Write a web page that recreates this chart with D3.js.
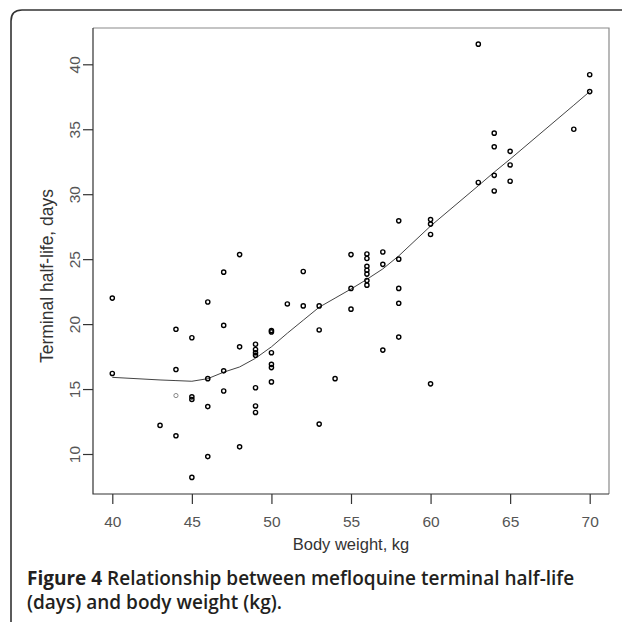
<!DOCTYPE html>
<html>
<head>
<meta charset="utf-8">
<script src="https://cdn.jsdelivr.net/npm/d3@7"></script>
<style>
  body { margin: 0; background: #fff; }
  svg { display: block; }
  .tick text { font-family: "Liberation Sans", Arial, sans-serif; font-size: 15.5px; fill: #555; }
</style>
</head>
<body>
<div id="chart"></div>
<script>
//============= DATA ==============//
// body weight (kg) of each patient
const weights = [
  40, 40,
  43,
  44, 44, 44, 44,
  45, 45, 45, 45,
  46, 46, 46, 46,
  47, 47, 47, 47,
  48, 48, 48,
  49, 49, 49, 49, 49, 49, 49,
  50, 50, 50, 50, 50, 50,
  51,
  52, 52,
  53, 53, 53,
  54,
  55, 55, 55,
  56, 56, 56, 56, 56, 56, 56,
  57, 57, 57,
  58, 58, 58, 58, 58,
  60, 60, 60, 60,
  63, 63,
  64, 64, 64, 64,
  65, 65, 65,
  69,
  70, 70
];
// terminal half-life (days), same order as weights
const halfLives = [
  22.0, 16.2,
  12.2,
  19.6, 16.5, 14.5, 11.4,
  18.95, 14.4, 14.2, 8.2,
  21.7, 15.8, 13.65, 9.8,
  24.0, 19.9, 16.4, 14.85,
  25.35, 18.25, 10.55,
  18.45, 18.05, 17.8, 17.6, 15.1, 13.7, 13.2,
  19.5, 19.4, 17.8, 16.9, 16.65, 15.55,
  21.55,
  24.05, 21.4,
  21.4, 19.55, 12.3,
  15.8,
  25.35, 22.75, 21.15,
  25.4, 25.05, 24.45, 24.15, 23.85, 23.35, 23.0,
  25.55, 24.6, 18.0,
  27.95, 25.0, 22.75, 21.6, 19.0,
  28.05, 27.7, 26.9, 15.4,
  41.55, 30.9,
  34.7, 33.65, 31.45, 30.25,
  33.3, 32.25, 31.0,
  35.0,
  39.2, 37.9
];
// the one lighter point
const greyPoint = 5;

// smoothed (lowess) curve
const smoothX = [40, 43, 44, 45, 46, 47, 48, 49, 50, 51, 52, 53, 54, 55, 56, 57, 58, 60, 63, 64, 65, 69, 70];
const smoothY = [15.9, 15.7, 15.65, 15.6, 15.8, 16.3, 16.7, 17.37, 18.25, 19.3, 20.3, 21.3, 22.0, 22.7, 23.45, 24.25, 25.25, 27.55, 30.65, 31.7, 32.7, 36.85, 37.9];

const xTicks = [40, 45, 50, 55, 60, 65, 70];
const yTicks = [10, 15, 20, 25, 30, 35, 40];

//============= SETUP ==============//
const W = 622, H = 622;
const box = {left: 93, right: 609, top: 28, bottom: 494};

const svg = d3.select("#chart").append("svg")
  .attr("width", W)
  .attr("height", H);

// outer figure frame (rounded corner, open on the right)
svg.append("path")
  .attr("d", `M11,${H} L11,21 Q11,10 22,10 L${W},10`)
  .attr("fill", "none")
  .attr("stroke", "#333")
  .attr("stroke-width", 1.6);

const x = d3.scaleLinear().domain([40, 70]).range([112.3, 589.7]);
const y = d3.scaleLinear().domain([10, 40]).range([454, 64.3]);

// plot box: top and right lighter
svg.append("path")
  .attr("d", `M${box.left},${box.top} L${box.right},${box.top} L${box.right},${box.bottom}`)
  .attr("fill", "none").attr("stroke", "#8a8a8a").attr("stroke-width", 1.2);
svg.append("path")
  .attr("d", `M${box.left},${box.top} L${box.left},${box.bottom} L${box.right},${box.bottom}`)
  .attr("fill", "none").attr("stroke", "#333").attr("stroke-width", 1.2);

//============= AXES ==============//
svg.append("g")
  .attr("transform", `translate(0,${box.bottom})`)
  .call(d3.axisBottom(x).tickValues(xTicks).tickSize(10).tickSizeOuter(0))
  .call(g => g.select(".domain").remove())
  .call(g => g.selectAll(".tick line").attr("stroke", "#333").attr("stroke-width", 1.2))
  .call(g => g.selectAll(".tick text").attr("y", 33).attr("dy", null));

svg.append("g")
  .attr("transform", `translate(${box.left},0)`)
  .call(d3.axisLeft(y).tickValues(yTicks).tickSize(10).tickSizeOuter(0))
  .call(g => g.select(".domain").remove())
  .call(g => g.selectAll(".tick line").attr("stroke", "#333").attr("stroke-width", 1.2))
  .call(g => g.selectAll(".tick text")
      .attr("x", null).attr("dy", null)
      .attr("text-anchor", "middle")
      .attr("transform", "translate(-13,0) rotate(-90)"));

// axis titles
svg.append("text")
  .attr("x", 351).attr("y", 550)
  .attr("text-anchor", "middle")
  .attr("font-family", "Liberation Sans, Arial, sans-serif")
  .attr("font-size", 16.5)
  .attr("fill", "#333")
  .text("Body weight, kg");

svg.append("text")
  .attr("transform", "translate(53,276) rotate(-90)")
  .attr("text-anchor", "middle")
  .attr("font-family", "Liberation Sans, Arial, sans-serif")
  .attr("font-size", 17.5)
  .attr("fill", "#333")
  .text("Terminal half-life, days");

//============= MARKS ==============//
const line = d3.line()
  .x(d => x(d[0]))
  .y(d => y(d[1]));

svg.append("path")
  .datum(d3.zip(smoothX, smoothY))
  .attr("d", line)
  .attr("fill", "none")
  .attr("stroke", "#444")
  .attr("stroke-width", 1);

svg.append("g")
  .selectAll("circle")
  .data(d3.zip(weights, halfLives))
  .join("circle")
  .attr("cx", d => x(d[0]))
  .attr("cy", d => y(d[1]))
  .attr("r", 2.1)
  .attr("fill", "none")
  .attr("stroke", (d, i) => i === greyPoint ? "#888" : "#000")
  .attr("stroke-width", (d, i) => i === greyPoint ? 1 : 1.4);

//============= CAPTION ==============//
const caption = svg.append("text")
  .attr("font-family", "Open Sans, sans-serif")
  .attr("font-size", 19)
  .attr("fill", "#231f20");

const l1 = caption.append("tspan").attr("x", 27).attr("y", 585);
l1.append("tspan").attr("font-weight", 700).text("Figure 4");
l1.append("tspan").attr("font-weight", 600).text(" Relationship between mefloquine terminal half-life");
caption.append("tspan").attr("x", 27).attr("y", 609)
  .attr("font-weight", 600)
  .text("(days) and body weight (kg).");
</script>
</body>
</html>
